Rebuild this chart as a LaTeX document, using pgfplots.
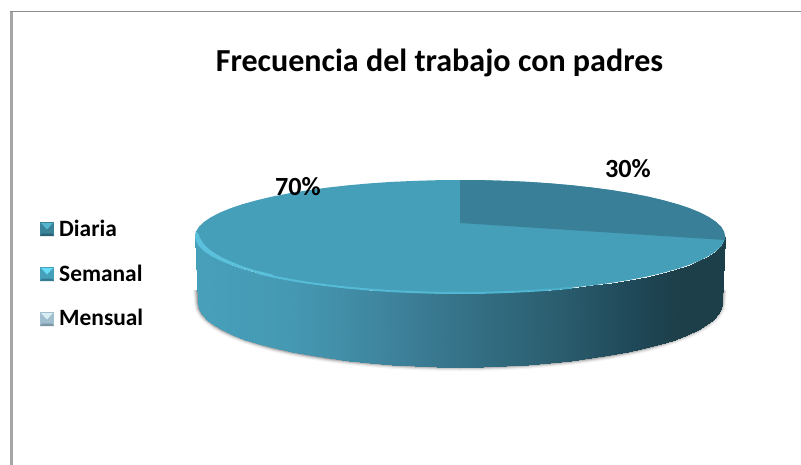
\documentclass[border=0pt]{standalone}
\usepackage{pgfplots}
\pgfplotsset{compat=1.18}
\usepackage{pgfplotstable}
\usepackage{fontspec}
\setmainfont{Carlito}
\definecolor{topc}{RGB}{70,159,185}
\definecolor{wedge}{RGB}{57,127,152}
\definecolor{rim}{RGB}{90,192,219}
\definecolor{frameL}{RGB}{165,165,165}
\definecolor{frameT}{RGB}{140,140,140}
% Frecuencia: Diaria 30, Semanal 70, Mensual 0
\pgfplotstableread{
x y
195 236.5
196 231.6
199 226.7
204 221.9
211 217.2
219.8 212.6
230.5 208.25
242.9 204.1
257 200.2
272.6 196.5
289.7 193.2
308 190.2
327.5 187.6
348 185.3
369.4 183.4
391.4 181.9
414 180.9
436.9 180.2
460 180
483.1 180.2
506 180.9
528.6 181.9
550.6 183.4
572 185.3
592.5 187.6
612 190.2
630.3 193.2
647.4 196.5
663 200.2
677.1 204.1
689.5 208.25
700.2 212.6
709 217.2
716 221.9
721 226.7
724 231.6
725 236.5
724 241.4
721 246.3
716 251.1
709 255.8
700.2 260.4
689.5 264.75
677.1 268.9
663 272.8
647.4 276.5
630.3 279.8
612 282.8
592.5 285.4
572 287.7
550.6 289.6
528.6 291.1
506 292.1
483.1 292.8
460 293
436.9 292.8
414 292.1
391.4 291.1
369.4 289.6
348 287.7
327.5 285.4
308 282.8
289.7 279.8
272.6 276.5
257 272.8
242.9 268.9
230.5 264.75
219.8 260.4
211 255.8
204 251.1
199 246.3
196 241.4
}\topellipse
\pgfplotstableread{
x y
460 223
460 180
483.1 180.2
506 180.9
528.6 181.9
550.6 183.4
572 185.3
592.5 187.6
612 190.2
630.3 193.2
647.4 196.5
663 200.2
677.1 204.1
689.5 208.25
700.2 212.6
709 217.2
716 221.9
721 226.7
724 231.6
725 236.5
725 240
}\wedgetab
\pgfplotstableread{
x y
257 272.8
272.6 276.5
289.7 279.8
308 282.8
327.5 285.4
348 287.7
369.4 289.6
391.4 291.1
414 292.1
436.9 292.8
460 293
483.1 292.8
506 292.1
528.6 291.1
550.6 289.6
572 287.7
}\rimtab
\pgfplotstableread{
x y
196 231.6
195 236.5
196 241.4
199 246.3
204 251.1
211 255.8
219.8 260.4
230.5 264.75
242.9 268.9
257 272.8
272.6 276.5
272.6 274.5
257 270.8
243 266.5
231 261.5
221 257
213 252
207 247.5
203 243
200 238
198.5 234
}\crescent
\pgfplotstableread{
x y
197 290
198 303
199 308.6
202 314.1
206.9 319.5
213.8 324.9
222.5 330.1
233.1 335
245.4 339.7
259.3 344.1
274.7 348.3
291.6 352
309.7 355.4
329 358.4
349.3 361
370.4 363.1
392.2 364.8
414.5 366
437.2 366.8
460 367
482.8 366.8
505.5 366
527.8 364.8
549.6 363.1
570.7 361
591 358.4
610.3 355.4
628.4 352
645.3 348.3
660.7 344.1
674.6 339.7
686.9 335
697.5 330.1
706.2 324.9
713.1 319.5
718 314.1
721 308.6
722 303
723 290
}\bottomarc
\pgfplotstableread{
x y
195 236.5
198 303
196 241.4
199 308.6
199 246.3
202 314.1
204 251.1
206.9 319.5
211 255.8
213.8 324.9
219.8 260.4
222.5 330.1
230.5 264.75
233.1 335
242.9 268.9
245.4 339.7
257 272.8
259.3 344.1
272.6 276.5
274.7 348.3
289.7 279.8
291.6 352
308 282.8
309.7 355.4
327.5 285.4
329 358.4
348 287.7
349.3 361
369.4 289.6
370.4 363.1
391.4 291.1
392.2 364.8
414 292.1
414.5 366
436.9 292.8
437.2 366.8
460 293
460 367
483.1 292.8
482.8 366.8
506 292.1
505.5 366
528.6 291.1
527.8 364.8
550.6 289.6
549.6 363.1
572 287.7
570.7 361
592.5 285.4
591 358.4
612 282.8
610.3 355.4
630.3 279.8
628.4 352
647.4 276.5
645.3 348.3
663 272.8
660.7 344.1
677.1 268.9
674.6 339.7
689.5 264.75
686.9 335
700.2 260.4
697.5 330.1
709 255.8
706.2 324.9
716 251.1
713.1 319.5
721 246.3
718 314.1
724 241.4
721 308.6
725 236.5
722 303
}\sidetab
\begin{document}
\begin{tikzpicture}
\begin{axis}[
  scale only axis, width=801bp, height=465bp,
  xmin=0, xmax=801, ymin=0, ymax=465, y dir=reverse,
  axis lines=none, clip=true,
  colormap={side}{rgb255(0cm)=(71,160,186); rgb255(10cm)=(69,152,178); rgb255(20cm)=(62,130,155); rgb255(27cm)=(53,113,135); rgb255(36cm)=(43,94,111); rgb255(44cm)=(31,72,88); rgb255(48cm)=(29,63,74); rgb255(53cm)=(29,63,74)},
  point meta min=195, point meta max=725,
]
% canvas
\addplot[fill=white, draw=none] coordinates {(0,0) (801,0) (801,465) (0,465)} -- cycle;
% frame
\addplot[draw=frameL, line width=3bp] coordinates {(11.5,465) (11.5,11)};
\addplot[draw=frameT, line width=1.5bp] coordinates {(10,11.5) (801,11.5)};
% shadow
\addplot[draw=black, opacity=0.05, line width=8bp] table {\bottomarc};
\addplot[draw=black, opacity=0.08, line width=5.5bp] table {\bottomarc};
\addplot[draw=black, opacity=0.12, line width=3.5bp] table {\bottomarc};
\addplot[draw=black, opacity=0.2, line width=1.5bp] table {\bottomarc};
% side
\addplot[surf, shader=interp, mesh/cols=2, point meta=x] table {\sidetab};
% top
\addplot[fill=topc, draw=none] table {\topellipse} -- cycle;
\addplot[fill=wedge, draw=none] table {\wedgetab} -- cycle;
% rim
\addplot[mesh, line width=2bp, point meta=x, point meta min=257, point meta max=572,
  colormap={rim}{rgb255(0cm)=(90,192,219); rgb255(20cm)=(78,180,208); rgb255(31cm)=(64,140,165)}] table {\rimtab};
\addplot[fill=rim, draw=none] table {\crescent} -- cycle;
% legend swatches
\addplot[fill={rgb,255:red,58;green,130;blue,152}, draw=none] coordinates {(40,222) (54,222) (54,236) (40,236)} -- cycle;
\addplot[fill={rgb,255:red,85;green,180;blue,205}, draw=none] coordinates {(41,223) (53,223) (47,229.5)} -- cycle;
\addplot[fill={rgb,255:red,42;green,98;blue,116}, draw=none] coordinates {(40,236) (54,236) (52,233.5) (42,233.5)} -- cycle;

\addplot[fill={rgb,255:red,70;green,160;blue,186}, draw=none] coordinates {(40,267) (54,267) (54,281) (40,281)} -- cycle;
\addplot[fill={rgb,255:red,105;green,220;blue,245}, draw=none] coordinates {(41,268) (53,268) (47,274.5)} -- cycle;
\addplot[fill={rgb,255:red,52;green,122;blue,145}, draw=none] coordinates {(40,281) (54,281) (52,278.5) (42,278.5)} -- cycle;

\addplot[fill={rgb,255:red,160;green,190;blue,205}, draw=none] coordinates {(40,312) (54,312) (54,326) (40,326)} -- cycle;
\addplot[fill={rgb,255:red,215;green,238;blue,245}, draw=none] coordinates {(41,313) (53,313) (47,319.5)} -- cycle;
\addplot[fill={rgb,255:red,125;green,150;blue,165}, draw=none] coordinates {(40,326) (54,326) (52,323.5) (42,323.5)} -- cycle;
% texts
\node[anchor=base, inner sep=0pt, font=\bfseries\fontsize{32.2}{36}\selectfont] at (axis cs:439.5,72) {Frecuencia del trabajo con padres};
\node[anchor=base, inner sep=0pt, font=\bfseries\fontsize{26.3}{30}\selectfont] at (axis cs:298,195) {70\%};
\node[anchor=base, inner sep=0pt, font=\bfseries\fontsize{26.3}{30}\selectfont] at (axis cs:628,177) {30\%};
\node[anchor=base west, inner sep=0pt, font=\bfseries\fontsize{23.5}{27}\selectfont] at (axis cs:59,236) {Diaria};
\node[anchor=base west, inner sep=0pt, font=\bfseries\fontsize{23.5}{27}\selectfont] at (axis cs:59,281) {Semanal};
\node[anchor=base west, inner sep=0pt, font=\bfseries\fontsize{23.5}{27}\selectfont] at (axis cs:59,325.5) {Mensual};
\end{axis}
\end{tikzpicture}
\end{document}
